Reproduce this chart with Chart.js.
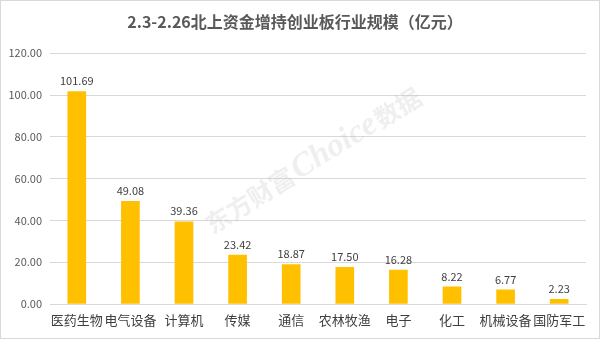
<!DOCTYPE html>
<html>
<head>
<meta charset="utf-8">
<script src="https://cdn.jsdelivr.net/npm/chart.js@4/dist/chart.umd.min.js"></script>
<style>
  html, body { margin: 0; padding: 0; background: #fff; }
  #wrap { width: 600px; height: 339px; position: relative; }
</style>
</head>
<body>
<div id="wrap"><canvas id="c" width="600" height="339"></canvas></div>
<script>
// Industries on the ChiNext board and the northbound holdings increase (亿元)
const categories = ['医药生物', '电气设备', '计算机', '传媒', '通信', '农林牧渔', '电子', '化工', '机械设备', '国防军工'];
const increase = [101.69, 49.08, 39.36, 23.42, 18.87, 17.50, 16.28, 8.22, 6.77, 2.23];
const yTicks = [0, 20, 40, 60, 80, 100, 120];

const cjk = '"Noto Sans CJK SC", "Microsoft YaHei", sans-serif';

// value labels above each bar
const valueLabels = {
  id: 'valueLabels',
  afterDatasetsDraw(chart) {
    const ctx = chart.ctx;
    const meta = chart.getDatasetMeta(0);
    ctx.save();
    ctx.font = '11px ' + cjk;
    ctx.fillStyle = '#404040';
    ctx.textAlign = 'center';
    ctx.textBaseline = 'bottom';
    meta.data.forEach((bar, i) => {
      ctx.fillText(increase[i].toFixed(2), bar.x, bar.y - 5);
    });
    ctx.restore();
  }
};

// frame and watermark
const decor = {
  id: 'decor',
  beforeDraw(chart) {
    const ctx = chart.ctx;
    ctx.save();
    ctx.fillStyle = '#fff';
    ctx.fillRect(0, 0, chart.width, chart.height);
    ctx.strokeStyle = '#d9d9d9';
    ctx.lineWidth = 1;
    ctx.strokeRect(0.5, 0.5, chart.width - 1, chart.height - 1);
    ctx.restore();
  },
  afterDraw(chart) {
    const ctx = chart.ctx;
    ctx.save();
    ctx.translate(314, 160);
    ctx.rotate(-32 * Math.PI / 180);
    ctx.fillStyle = 'rgba(190,190,190,0.25)';
    ctx.textBaseline = 'middle';
    const parts = [
      { t: '东方财富', f: 'bold 25px ' + cjk },
      { t: 'Choice', f: 'italic bold 33px "Liberation Serif", serif' },
      { t: '数据', f: 'bold 25px ' + cjk }
    ];
    let total = 0;
    parts.forEach(p => { ctx.font = p.f; p.w = ctx.measureText(p.t).width; total += p.w + 2; });
    let x = -total / 2;
    parts.forEach(p => { ctx.font = p.f; ctx.fillText(p.t, x, 0); x += p.w + 2; });
    ctx.restore();
  }
};

new Chart(document.getElementById('c'), {
  type: 'bar',
  data: {
    labels: categories,
    datasets: [{
      data: increase,
      backgroundColor: '#FFC000',
      borderWidth: 0,
      barThickness: 18
    }]
  },
  plugins: [decor, valueLabels],
  options: {
    responsive: false,
    animation: false,
    layout: { padding: { left: 4, right: 14, top: 10, bottom: 2 } },
    plugins: {
      legend: { display: false },
      tooltip: { enabled: false },
      title: {
        display: true,
        text: '2.3-2.26北上资金增持创业板行业规模（亿元）',
        color: '#595959',
        font: { family: cjk, size: 16, weight: 'bold' },
        padding: { top: 2, bottom: 22 }
      }
    },
    scales: {
      x: {
        grid: { display: false, drawTicks: false },
        border: { display: true, color: '#d9d9d9' },
        ticks: {
          color: '#404040',
          font: { family: cjk, size: 13 },
          padding: 8,
          maxRotation: 0,
          autoSkip: false
        },
        afterFit(scale) { scale.height = 33; }
      },
      y: {
        min: 0,
        max: 120,
        afterBuildTicks(scale) { scale.ticks = yTicks.map(v => ({ value: v })); },
        grid: { color: '#d9d9d9', drawTicks: false },
        border: { display: false },
        ticks: {
          color: '#595959',
          font: { family: cjk, size: 11 },
          padding: 8,
          callback: v => Number(v).toFixed(2)
        },
        afterFit(scale) { scale.width = 46; }
      }
    }
  }
});
</script>
</body>
</html>
